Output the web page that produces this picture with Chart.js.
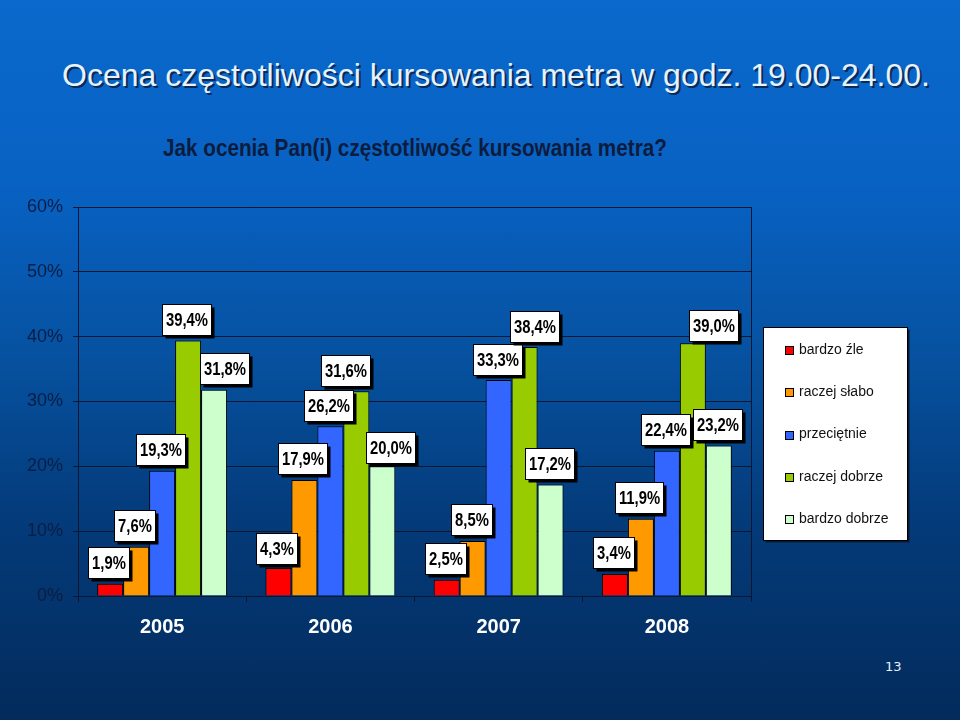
<!DOCTYPE html>
<html>
<head>
<meta charset="utf-8">
<script src="https://cdn.jsdelivr.net/npm/chart.js@4/dist/chart.umd.min.js"></script>
<style>
  html, body { margin: 0; padding: 0; }
  body {
    width: 960px; height: 720px; position: relative; overflow: hidden;
    background: linear-gradient(180deg, #0a69cc 0%, #0862c4 25%, #06519f 50%, #043b7a 72%, #032b5c 100%);
    font-family: "Liberation Sans", Arial, sans-serif;
  }
  #title {
    position: absolute; left: 62px; top: 57px; white-space: nowrap;
    font-size: 32px; color: #e6f3ff; text-shadow: 2px 2px 0 #0a2a55;
  }
  #subtitle {
    position: absolute; left: 163px; top: 135px; white-space: nowrap;
    font-size: 23px; font-weight: bold; color: #0d1c3d;
    transform: scaleX(0.9); transform-origin: 0 0;
  }
  #page {
    position: absolute; left: 885px; top: 659px;
    font-family: "DejaVu Sans", sans-serif; font-size: 13px; color: #e6eef8;
  }
  #myChart { position: absolute; left: 0; top: 0; }
</style>
</head>
<body>
<div id="title">Ocena częstotliwości kursowania metra w godz. 19.00-24.00.</div>
<div id="subtitle">Jak ocenia Pan(i) częstotliwość kursowania metra?</div>
<div id="page">13</div>
<canvas id="myChart" width="960" height="720"></canvas>
<script>
const categories = ['2005', '2006', '2007', '2008'];

const seriesNames = ['bardzo źle', 'raczej słabo', 'przeciętnie', 'raczej dobrze', 'bardzo dobrze'];
const bardzoZle = [1.9, 4.3, 2.5, 3.4];
const raczejSlabo = [7.6, 17.9, 8.5, 11.9];
const przecietnie = [19.3, 26.2, 33.3, 22.4];
const raczejDobrze = [39.4, 31.6, 38.4, 39.0];
const bardzoDobrze = [31.8, 20.0, 17.2, 23.2];

const yTicks = [0, 10, 20, 30, 40, 50, 60];

const colors = ['#ff0000', '#ff9900', '#3366ff', '#99cc00', '#ccffcc'];
const lineColor = '#0b1730';
const labelFont = 'bold 19px "Liberation Sans", Arial, sans-serif';
const squeeze = 0.78; // the slide text is horizontally condensed

// some value boxes were moved by hand in the original, key = dataset-index
const labelShift = {
    '4-0': [11.5, 0],
    '3-1': [-9, 0],
    '4-1': [9.5, 2.5],
    '3-2': [11.5, 0],
    '3-3': [22, 3],
    '0-1': [0, 1.5]
};

function fmt(v) {
    return v.toFixed(1).replace('.', ',') + '%';
}

const valueBoxes = {
    id: 'valueBoxes',
    afterDatasetsDraw(chart) {
        const c = chart.ctx;
        c.save();
        c.font = labelFont;
        c.textAlign = 'center';
        c.textBaseline = 'middle';
        chart.data.datasets.forEach((ds, di) => {
            const meta = chart.getDatasetMeta(di);
            meta.data.forEach((bar, i) => {
                const txt = fmt(ds.data[i]);
                const sh = labelShift[di + '-' + i] || [0, 0];
                const w = Math.round(c.measureText(txt).width * squeeze + 7);
                const h = 31;
                const cx = bar.x - 1.5 + sh[0];
                const bottom = bar.y - 5.5 + sh[1];
                const x = Math.round(cx - w / 2) + 0.5;
                const y = Math.round(bottom - h) + 0.5;
                c.fillStyle = '#000';
                c.fillRect(x + 3, y + 3, w, h);
                c.fillStyle = '#fff';
                c.fillRect(x, y, w, h);
                c.strokeStyle = '#000';
                c.lineWidth = 1;
                c.strokeRect(x, y, w, h);
                c.save();
                c.translate(x + w / 2, y + h / 2 + 1);
                c.scale(squeeze, 1);
                c.fillStyle = '#000';
                c.fillText(txt, 0, 0);
                c.restore();
            });
        });
        c.restore();
    }
};

const frameAndLegend = {
    id: 'frameAndLegend',
    afterDraw(chart) {
        const c = chart.ctx;
        const a = chart.chartArea;
        c.save();
        c.strokeStyle = lineColor;
        c.lineWidth = 1;
        c.beginPath();
        c.moveTo(Math.round(a.right) + 0.5, a.top);
        c.lineTo(Math.round(a.right) + 0.5, a.bottom);
        c.stroke();

        // legend box
        const lx = 763.5, ly = 327.5, lw = 144, lh = 213;
        c.fillStyle = '#0a1a33';
        c.fillRect(lx + 2, ly + 2, lw, lh);
        c.fillStyle = '#fff';
        c.fillRect(lx, ly, lw, lh);
        c.strokeStyle = '#000';
        c.strokeRect(lx, ly, lw, lh);
        c.font = '14px "Liberation Sans", Arial, sans-serif';
        c.textBaseline = 'middle';
        c.textAlign = 'left';
        chart.data.datasets.forEach((ds, i) => {
            const yy = 350 + i * 42.3;
            c.fillStyle = ds.backgroundColor;
            c.fillRect(785.5, Math.round(yy - 4) + 0.5, 8, 8);
            c.strokeStyle = '#000';
            c.strokeRect(785.5, Math.round(yy - 4) + 0.5, 8, 8);
            c.fillStyle = '#111';
            c.fillText(ds.label, 799, yy);
        });
        c.restore();
    }
};

const allSeries = [bardzoZle, raczejSlabo, przecietnie, raczejDobrze, bardzoDobrze];

const ctx = document.getElementById('myChart');

new Chart(ctx, {
    type: 'bar',
    data: {
        labels: categories,
        datasets: allSeries.map((vals, i) => ({
            label: seriesNames[i],
            data: vals,
            backgroundColor: colors[i],
            borderColor: '#000',
            borderWidth: 1,
            categoryPercentage: 0.772,
            barPercentage: 1.0
        }))
    },
    options: {
        responsive: false,
        animation: false,
        events: [],
        layout: {
            padding: { left: 0, top: 207, right: 209, bottom: 0 }
        },
        plugins: {
            legend: { display: false },
            tooltip: { enabled: false }
        },
        scales: {
            y: {
                min: 0,
                max: 60,
                afterFit: function (scale) { scale.width = 78; },
                afterBuildTicks: function (scale) {
                    scale.ticks = yTicks.map(v => ({ value: v }));
                },
                grid: {
                    color: lineColor,
                    lineWidth: 1,
                    tickLength: 5
                },
                border: { color: lineColor },
                ticks: {
                    padding: 10,
                    color: '#0a1e45',
                    font: { family: '"Liberation Sans", Arial, sans-serif', size: 18 },
                    callback: function (value) {
                        return value + '%';
                    }
                }
            },
            x: {
                afterFit: function (scale) { scale.height = 124; },
                grid: {
                    drawOnChartArea: false,
                    color: lineColor,
                    tickLength: 6
                },
                border: { color: lineColor },
                ticks: {
                    padding: 13,
                    color: '#ffffff',
                    font: { family: '"Liberation Sans", Arial, sans-serif', size: 20, weight: 'bold' }
                }
            }
        }
    },
    plugins: [valueBoxes, frameAndLegend]
});
</script>
</body>
</html>
